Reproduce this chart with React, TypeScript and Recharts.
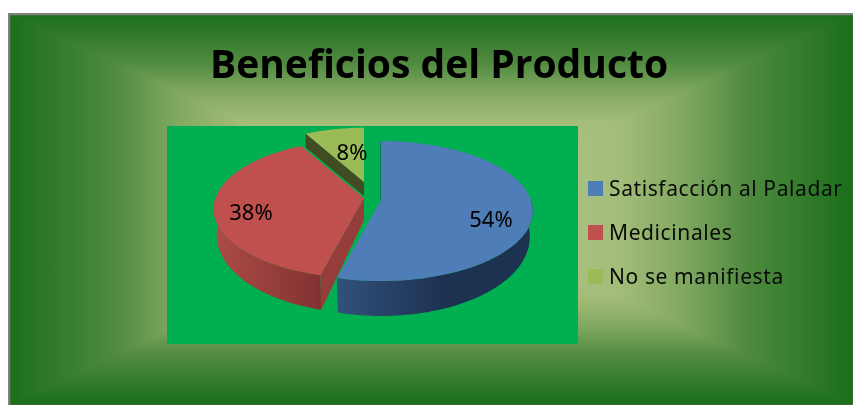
import { PieChart, Pie, Legend, Cell } from "recharts";

const categories = ["Satisfacción al Paladar", "Medicinales", "No se manifiesta"];
const shares = [54, 38, 8];
const sliceColors = ["#4f7db8", "#c0504d", "#9bbb59"];
const title = "Beneficios del Producto";

const data = categories.map((name, i) => ({ name, value: shares[i] }));

const W = 845;
const H = 392;
const FX = 8; // frame origin on the page
const FY = 13;

// fake 3d: tilt + perspective applied to the sector angles Pie gives us
const TILT = 0.455;
const PERSP = 0.157;
const sliceStyle = [
  { dx: 17, dy: 2, scale: 1, label: [110, 18], wall: "url(#wallBlue)", side: "#1d3150" },
  { dx: 0, dy: 0, scale: 0.99, label: [-113, 13], wall: "url(#wallRed)", side: "#953d3a" },
  { dx: 0, dy: -16, scale: 0.92, label: [-12, -31], wall: "#414c22", side: "#414c22" },
];

function project(angle: number, r: number) {
  const rad = (angle * Math.PI) / 180;
  const u = Math.cos(rad);
  const v = -Math.sin(rad);
  const w = 1 - PERSP * v;
  return { x: (u * r) / w, y: (v * r * TILT) / w, v };
}

function sweep(start: number, end: number) {
  const out: number[] = [];
  const n = Math.ceil(Math.abs(end - start) / 2);
  for (let i = 0; i <= n; i++) out.push(start + ((end - start) * i) / n);
  return out;
}

function depthAt(v: number) {
  return 24 + 11 * Math.max(v, 0);
}

function pts(list: { x: number; y: number }[]) {
  return list.map((p) => `${p.x.toFixed(1)},${p.y.toFixed(1)}`).join(" ");
}

function Slice3D(props: any) {
  const { cx, cy, outerRadius, startAngle, endAngle, fill, index } = props;
  const st = sliceStyle[index] ?? sliceStyle[0];
  const ox = cx + st.dx;
  const oy = cy + st.dy;
  const r = outerRadius * st.scale;
  const angles = sweep(startAngle, endAngle);
  const rim = angles.map((a) => project(a, r)).map((p) => ({ x: ox + p.x, y: oy + p.y, v: p.v }));
  const top = pts([{ x: ox, y: oy }, ...rim]);

  const front = rim.filter((p) => p.v > -0.02);
  const low = (p: { x: number; y: number; v: number }) => ({
    x: ox + (p.x - ox) * 0.98,
    y: p.y + depthAt(p.v),
  });
  const wall = front.length > 1 ? pts([...front, ...[...front].reverse().map(low)]) : null;

  const first = rim[0];
  const faceDepth = index === 2 ? 14 : null;
  const face =
    index === 0
      ? null
      : pts([
          { x: ox, y: oy },
          first,
          faceDepth ? { x: first.x, y: first.y + faceDepth } : low(first),
          { x: ox, y: oy + (faceDepth ?? 22) },
        ]);

  return (
    <g>
      {wall && <polygon points={wall} fill={st.wall} />}
      {face && <polygon points={face} fill={st.side} />}
      {index === 0 && (
        <line x1={ox} y1={oy} x2={first.x} y2={first.y} stroke="#1d4a6e" strokeWidth={1} />
      )}
      <polygon points={top} fill={fill} />
    </g>
  );
}

function pctLabel(props: any) {
  const { cx, cy, index, value } = props;
  const st = sliceStyle[index];
  return (
    <text
      x={cx + st.dx + st.label[0]}
      y={cy + st.dy + st.label[1]}
      textAnchor="middle"
      dominantBaseline="central"
      fontFamily="'Noto Sans', sans-serif"
      fontSize={22}
      fill="#000"
    >
      {value}%
    </text>
  );
}

function LegendBox({ payload }: any) {
  return (
    <div style={{ fontFamily: "'Noto Sans', sans-serif", fontSize: 21, letterSpacing: 0.6, color: "#0a0a0a" }}>
      {(payload ?? []).map((item: any) => (
        <div key={item.value} style={{ display: "flex", alignItems: "center", height: 44 }}>
          <span style={{ width: 15, height: 15, background: item.color, marginRight: 6 }} />
          <span style={{ whiteSpace: "nowrap" }}>{item.value}</span>
        </div>
      ))}
    </div>
  );
}

// rectangular path gradient stops, edge to centre
const bgStops = [
  [0, "#1a6e1a"],
  [0.25, "#4f8a3f"],
  [0.4, "#80a860"],
  [0.55, "#a3bc78"],
  [1, "#bcd09a"],
];

function Background() {
  const mx = 422;
  const my = 196;
  const tris = [
    { id: "bgT", pts: `0,0 ${W},0 ${mx},${my}`, g: [0, 0, 0, my] },
    { id: "bgB", pts: `0,${H} ${W},${H} ${mx},${my}`, g: [0, H, 0, my] },
    { id: "bgL", pts: `0,0 0,${H} ${mx},${my}`, g: [0, 0, mx, 0] },
    { id: "bgR", pts: `${W},0 ${W},${H} ${mx},${my}`, g: [W, 0, mx, 0] },
  ];
  return (
    <svg width={W} height={H} style={{ position: "absolute", left: 0, top: 0 }}>
      <defs>
        {tris.map((t) => (
          <linearGradient
            key={t.id}
            id={t.id}
            gradientUnits="userSpaceOnUse"
            x1={t.g[0]}
            y1={t.g[1]}
            x2={t.g[2]}
            y2={t.g[3]}
          >
            {bgStops.map(([o, c]) => (
              <stop key={o as number} offset={o as number} stopColor={c as string} />
            ))}
          </linearGradient>
        ))}
      </defs>
      {tris.map((t) => (
        <polygon key={t.id} points={t.pts} fill={`url(#${t.id})`} shapeRendering="crispEdges" />
      ))}
      <rect x={1} y={1} width={W} height={H} fill="none" stroke="#808080" strokeWidth={2.5} />
      <rect x={167 - FX} y={126 - FY} width={411} height={218} fill="#00b050" />
    </svg>
  );
}

export default function App() {
  return (
    <div style={{ position: "fixed", left: FX, top: FY, width: W, height: H }}>
      <Background />
      <div style={{ position: "absolute", left: 0, top: 0 }}>
        <PieChart width={W} height={H} margin={{ top: 0, right: 0, bottom: 0, left: 0 }}>
          <defs>
            <linearGradient id="wallBlue" gradientUnits="userSpaceOnUse" x1={332} y1={0} x2={437} y2={0}>
              <stop offset="0" stopColor="#31507a" />
              <stop offset="1" stopColor="#1d3150" />
            </linearGradient>
            <linearGradient id="wallRed" gradientUnits="userSpaceOnUse" x1={206} y1={0} x2={312} y2={0}>
              <stop offset="0" stopColor="#ad4b47" />
              <stop offset="1" stopColor="#823331" />
            </linearGradient>
          </defs>
          <text
            x={431}
            y={65}
            textAnchor="middle"
            fontFamily="'Open Sans', sans-serif"
            fontWeight={700}
            fontSize={39}
            fill="#000"
          >
            {title}
          </text>
          <Pie
            data={data}
            dataKey="value"
            nameKey="name"
            cx={364 - FX}
            cy={198 - FY}
            innerRadius={0}
            outerRadius={150}
            startAngle={90}
            endAngle={-270}
            stroke="none"
            isAnimationActive={false}
            shape={Slice3D}
            label={pctLabel}
            labelLine={false}
          >
            {data.map((d, i) => (
              <Cell key={d.name} fill={sliceColors[i]} />
            ))}
          </Pie>
          <Legend
            layout="vertical"
            content={LegendBox}
            itemSorter={null}
            wrapperStyle={{ position: "absolute", left: 588 - FX, top: 166 - FY, width: 270, height: 132 }}
          />
        </PieChart>
      </div>
    </div>
  );
}
